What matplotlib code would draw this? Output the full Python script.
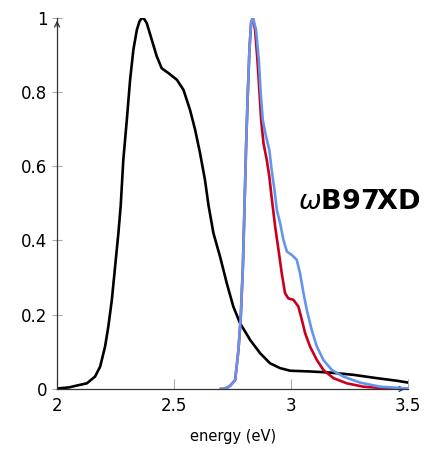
import matplotlib.pyplot as plt

# spectra (energy in eV, normalised intensity)
x_black = [2.00, 2.05, 2.098, 2.127, 2.162, 2.184, 2.205, 2.219, 2.234, 2.248, 2.262,
           2.272, 2.283, 2.298, 2.312, 2.326, 2.341, 2.352, 2.362, 2.372, 2.383, 2.405,
           2.426, 2.447, 2.476, 2.512, 2.54, 2.568, 2.59, 2.611, 2.632, 2.647, 2.668,
           2.697, 2.725, 2.753, 2.782, 2.825, 2.868, 2.91, 2.953, 2.996, 3.081, 3.167,
           3.266, 3.366, 3.452, 3.50]
y_black = [0.001, 0.004, 0.011, 0.015, 0.033, 0.06, 0.114, 0.168, 0.24, 0.33, 0.42,
           0.495, 0.617, 0.725, 0.833, 0.914, 0.968, 0.99, 1.0, 0.997, 0.986, 0.94,
           0.896, 0.864, 0.851, 0.833, 0.806, 0.752, 0.698, 0.635, 0.563, 0.495, 0.42,
           0.355, 0.285, 0.222, 0.177, 0.132, 0.096, 0.069, 0.056, 0.049, 0.047, 0.044,
           0.038, 0.029, 0.022, 0.017]

x_red = [2.70, 2.711, 2.725, 2.739, 2.761, 2.775, 2.785, 2.794, 2.80, 2.808, 2.815,
         2.822, 2.829, 2.836, 2.846, 2.856, 2.865, 2.872, 2.882, 2.896, 2.907, 2.917,
         2.932, 2.946, 2.96, 2.974, 2.988, 3.01, 3.031, 3.046, 3.06, 3.081, 3.11,
         3.138, 3.181, 3.238, 3.309, 3.41, 3.50]
y_red = [0.0, 0.0, 0.003, 0.008, 0.024, 0.105, 0.195, 0.33, 0.47, 0.662, 0.797,
         0.914, 0.986, 1.0, 0.968, 0.887, 0.797, 0.725, 0.662, 0.617, 0.572, 0.515,
         0.437, 0.375, 0.312, 0.258, 0.244, 0.24, 0.222, 0.186, 0.15, 0.114, 0.078,
         0.051, 0.029, 0.015, 0.006, 0.001, 0.0]

x_blue = [2.70, 2.711, 2.725, 2.739, 2.761, 2.775, 2.785, 2.794, 2.80, 2.808, 2.815,
          2.822, 2.829, 2.837, 2.85, 2.862, 2.87, 2.879, 2.893, 2.907, 2.917, 2.929,
          2.939, 2.953, 2.967, 2.982, 3.003, 3.024, 3.038, 3.053, 3.067, 3.088, 3.11,
          3.138, 3.174, 3.224, 3.295, 3.38, 3.50]
y_blue = [0.0, 0.0, 0.003, 0.008, 0.024, 0.105, 0.195, 0.33, 0.47, 0.662, 0.797,
          0.914, 0.986, 1.0, 0.968, 0.887, 0.797, 0.725, 0.68, 0.644, 0.59, 0.536,
          0.482, 0.447, 0.402, 0.37, 0.361, 0.348, 0.312, 0.258, 0.213, 0.159, 0.114,
          0.078, 0.051, 0.033, 0.017, 0.006, 0.001]

x_ticks = [2, 2.5, 3, 3.5]
x_tick_labels = ['2', '2.5', '3', '3.5']
y_ticks = [0, 0.2, 0.4, 0.6, 0.8, 1]
y_tick_labels = ['0', '0.2', '0.4', '0.6', '0.8', '1']

fig = plt.figure(figsize=(4.26, 4.57), dpi=100)
ax = fig.add_axes([0.134, 0.149, 0.824, 0.812])

ax.plot(x_black, y_black, color='black', lw=1.9, zorder=3, solid_joinstyle='round')
ax.plot(x_red, y_red, color='#c8001e', lw=1.9, zorder=4, solid_joinstyle='round')
ax.plot(x_blue, y_blue, color='#6495ed', lw=1.9, zorder=5, solid_joinstyle='round')

ax.set_xlim(2, 3.5)
ax.set_ylim(0, 1)
ax.set_xticks(x_ticks)
ax.set_xticklabels(x_tick_labels)
ax.set_yticks(y_ticks)
ax.set_yticklabels(y_tick_labels)
ax.tick_params(axis='both', labelsize=12, color='#aaaaaa', width=0.8)
ax.tick_params(axis='y', direction='inout', length=7)
ax.tick_params(axis='x', direction='in', length=7, pad=6)
ax.set_xlabel('energy (eV)', fontsize=10.5, labelpad=10)

# pgfplots style axis lines with arrow tips
for s in ['top', 'right']:
    ax.spines[s].set_visible(False)
for s in ['left', 'bottom']:
    ax.spines[s].set_color('#333333')
    ax.spines[s].set_linewidth(0.9)
    ax.spines[s].set_zorder(6)
ax.annotate('', xy=(1.0, 0), xytext=(0.97, 0), xycoords='axes fraction',
            arrowprops=dict(arrowstyle='->', lw=0.9, color='#333333', mutation_scale=9))
ax.annotate('', xy=(0, 1.0), xytext=(0, 0.97), xycoords='axes fraction',
            arrowprops=dict(arrowstyle='->', lw=0.9, color='#333333', mutation_scale=9))

ax.text(3.291, 0.505, r'$\omega\mathbf{B97XD}$', fontsize=19.5,
        ha='center', va='center')

fig.savefig('out.png', dpi=100)
